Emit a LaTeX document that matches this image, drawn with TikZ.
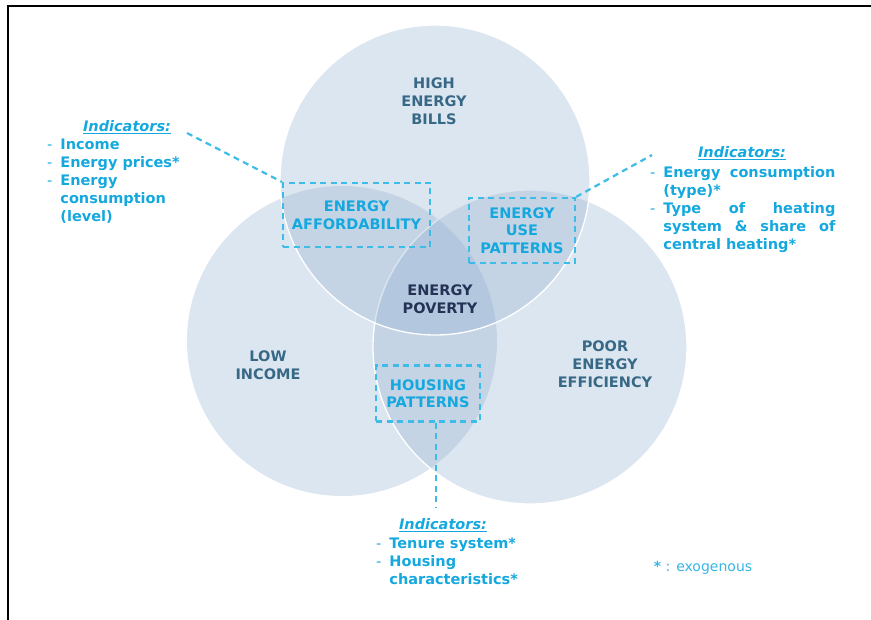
\documentclass[tikz,border=0pt]{standalone}
\usepackage{fontspec}
\setmainfont{DejaVu Sans}
\usetikzlibrary{positioning}

\definecolor{ringfill}{RGB}{140,172,205}
\definecolor{indblue}{RGB}{20,168,222}
\definecolor{boxblue}{RGB}{60,188,230}
\definecolor{tealgray}{RGB}{55,105,135}
\definecolor{navy}{RGB}{35,50,85}

\tikzset{
ring/.style={fill=ringfill, fill opacity=0.3}, % the three overlapping sets
rim/.style={draw=white, line width=1.3pt}, % white edge on top of a set
setname/.style={font=\fontsize{14.5}{18}\selectfont\bfseries, align=center, text=tealgray},
factorbox/.style={draw=boxblue, line width=2.2pt, dash pattern=on 6pt off 4.5pt,
  font=\fontsize{14.5}{17.5}\selectfont\bfseries, align=center, text=indblue, inner sep=0pt},
indtitle/.style={font=\fontsize{14.5}{18}\selectfont\bfseries\itshape, text=indblue},
indlist/.style={font=\fontsize{14.5}{18}\selectfont\bfseries, text=indblue, inner sep=0pt, anchor=north west},
link/.style={draw=boxblue, line width=2.2pt, dash pattern=on 6pt off 4.5pt}, % dashed leader line
}

% one bullet row of an indicator list
\newcommand{\ind}[1]{{\mdseries -} & #1\\}
\newcommand{\more}[1]{ & #1\\}

\begin{document}
\begin{tikzpicture}[x=1pt,y=-1pt]
\useasboundingbox (0,0) rectangle (871,620);
\draw[line width=2pt] (8,620) -- (8,6) -- (871,6);

% sets
\path[ring] (342,341) circle[radius=155];
\path[ring] (530,347) circle[radius=157];
\draw[rim] (530,347) circle[radius=157];
\path[ring] (435,180) circle[radius=155];
\draw[rim] (435,180) circle[radius=155];

\node[setname] (bills) at (434,101) {HIGH\\ENERGY\\BILLS};
\node[setname] (income) at (268,365) {LOW\\INCOME};
\node[setname] (effic) at (605,364) {POOR\\ENERGY\\EFFICIENCY};
\node[setname, text=navy] (poverty) at (440,299) {ENERGY\\POVERTY};

% overlaps
\node[factorbox, minimum width=147, minimum height=64] (afford) at (356.5,215) {ENERGY\\AFFORDABILITY};
\node[factorbox, minimum width=106, minimum height=65] (usage) at (522,230.5) {ENERGY\\USE\\PATTERNS};
\node[factorbox, minimum width=104, minimum height=56] (housing) at (428,393.5) {HOUSING\\PATTERNS};

% indicators
\node[indtitle] (indA) at (127,127) {\underline{Indicators:}};
\node[indlist] (listA) at (47,136.4) {\begin{tabular}{@{}l@{\hspace{8pt}}l@{}}
\ind{Income}
\ind{Energy prices*}
\ind{Energy}
\more{consumption}
\more{(level)}
\end{tabular}};

\node[indtitle] (indB) at (742,153) {\underline{Indicators:}};
\node[indlist] (listB) at (650,164.4) {\begin{tabular}{@{}l@{\hspace{8pt}}l@{}}
\ind{\makebox[172pt][s]{Energy consumption}}
\more{(type)*}
\ind{\makebox[172pt][s]{Type of heating}}
\more{\makebox[172pt][s]{system \& share of}}
\more{central heating*}
\end{tabular}};

\node[indtitle] (indC) at (443,525) {\underline{Indicators:}};
\node[indlist] (listC) at (376,535.4) {\begin{tabular}{@{}l@{\hspace{8pt}}l@{}}
\ind{Tenure system*}
\ind{Housing}
\more{characteristics*}
\end{tabular}};

\node[font=\fontsize{14}{16}\selectfont, text=indblue!85] (note) at (703,568) {\textbf{*} : exogenous};

\coordinate (endA) at (187,133);
\coordinate (endB) at (652,155);
\coordinate (endC) at (436,508);
\path (endA) edge[link] (afford.north west)
(usage.north east) edge[link] (endB)
(housing.south -| endC) edge[link] (endC);
\end{tikzpicture}
\end{document}
